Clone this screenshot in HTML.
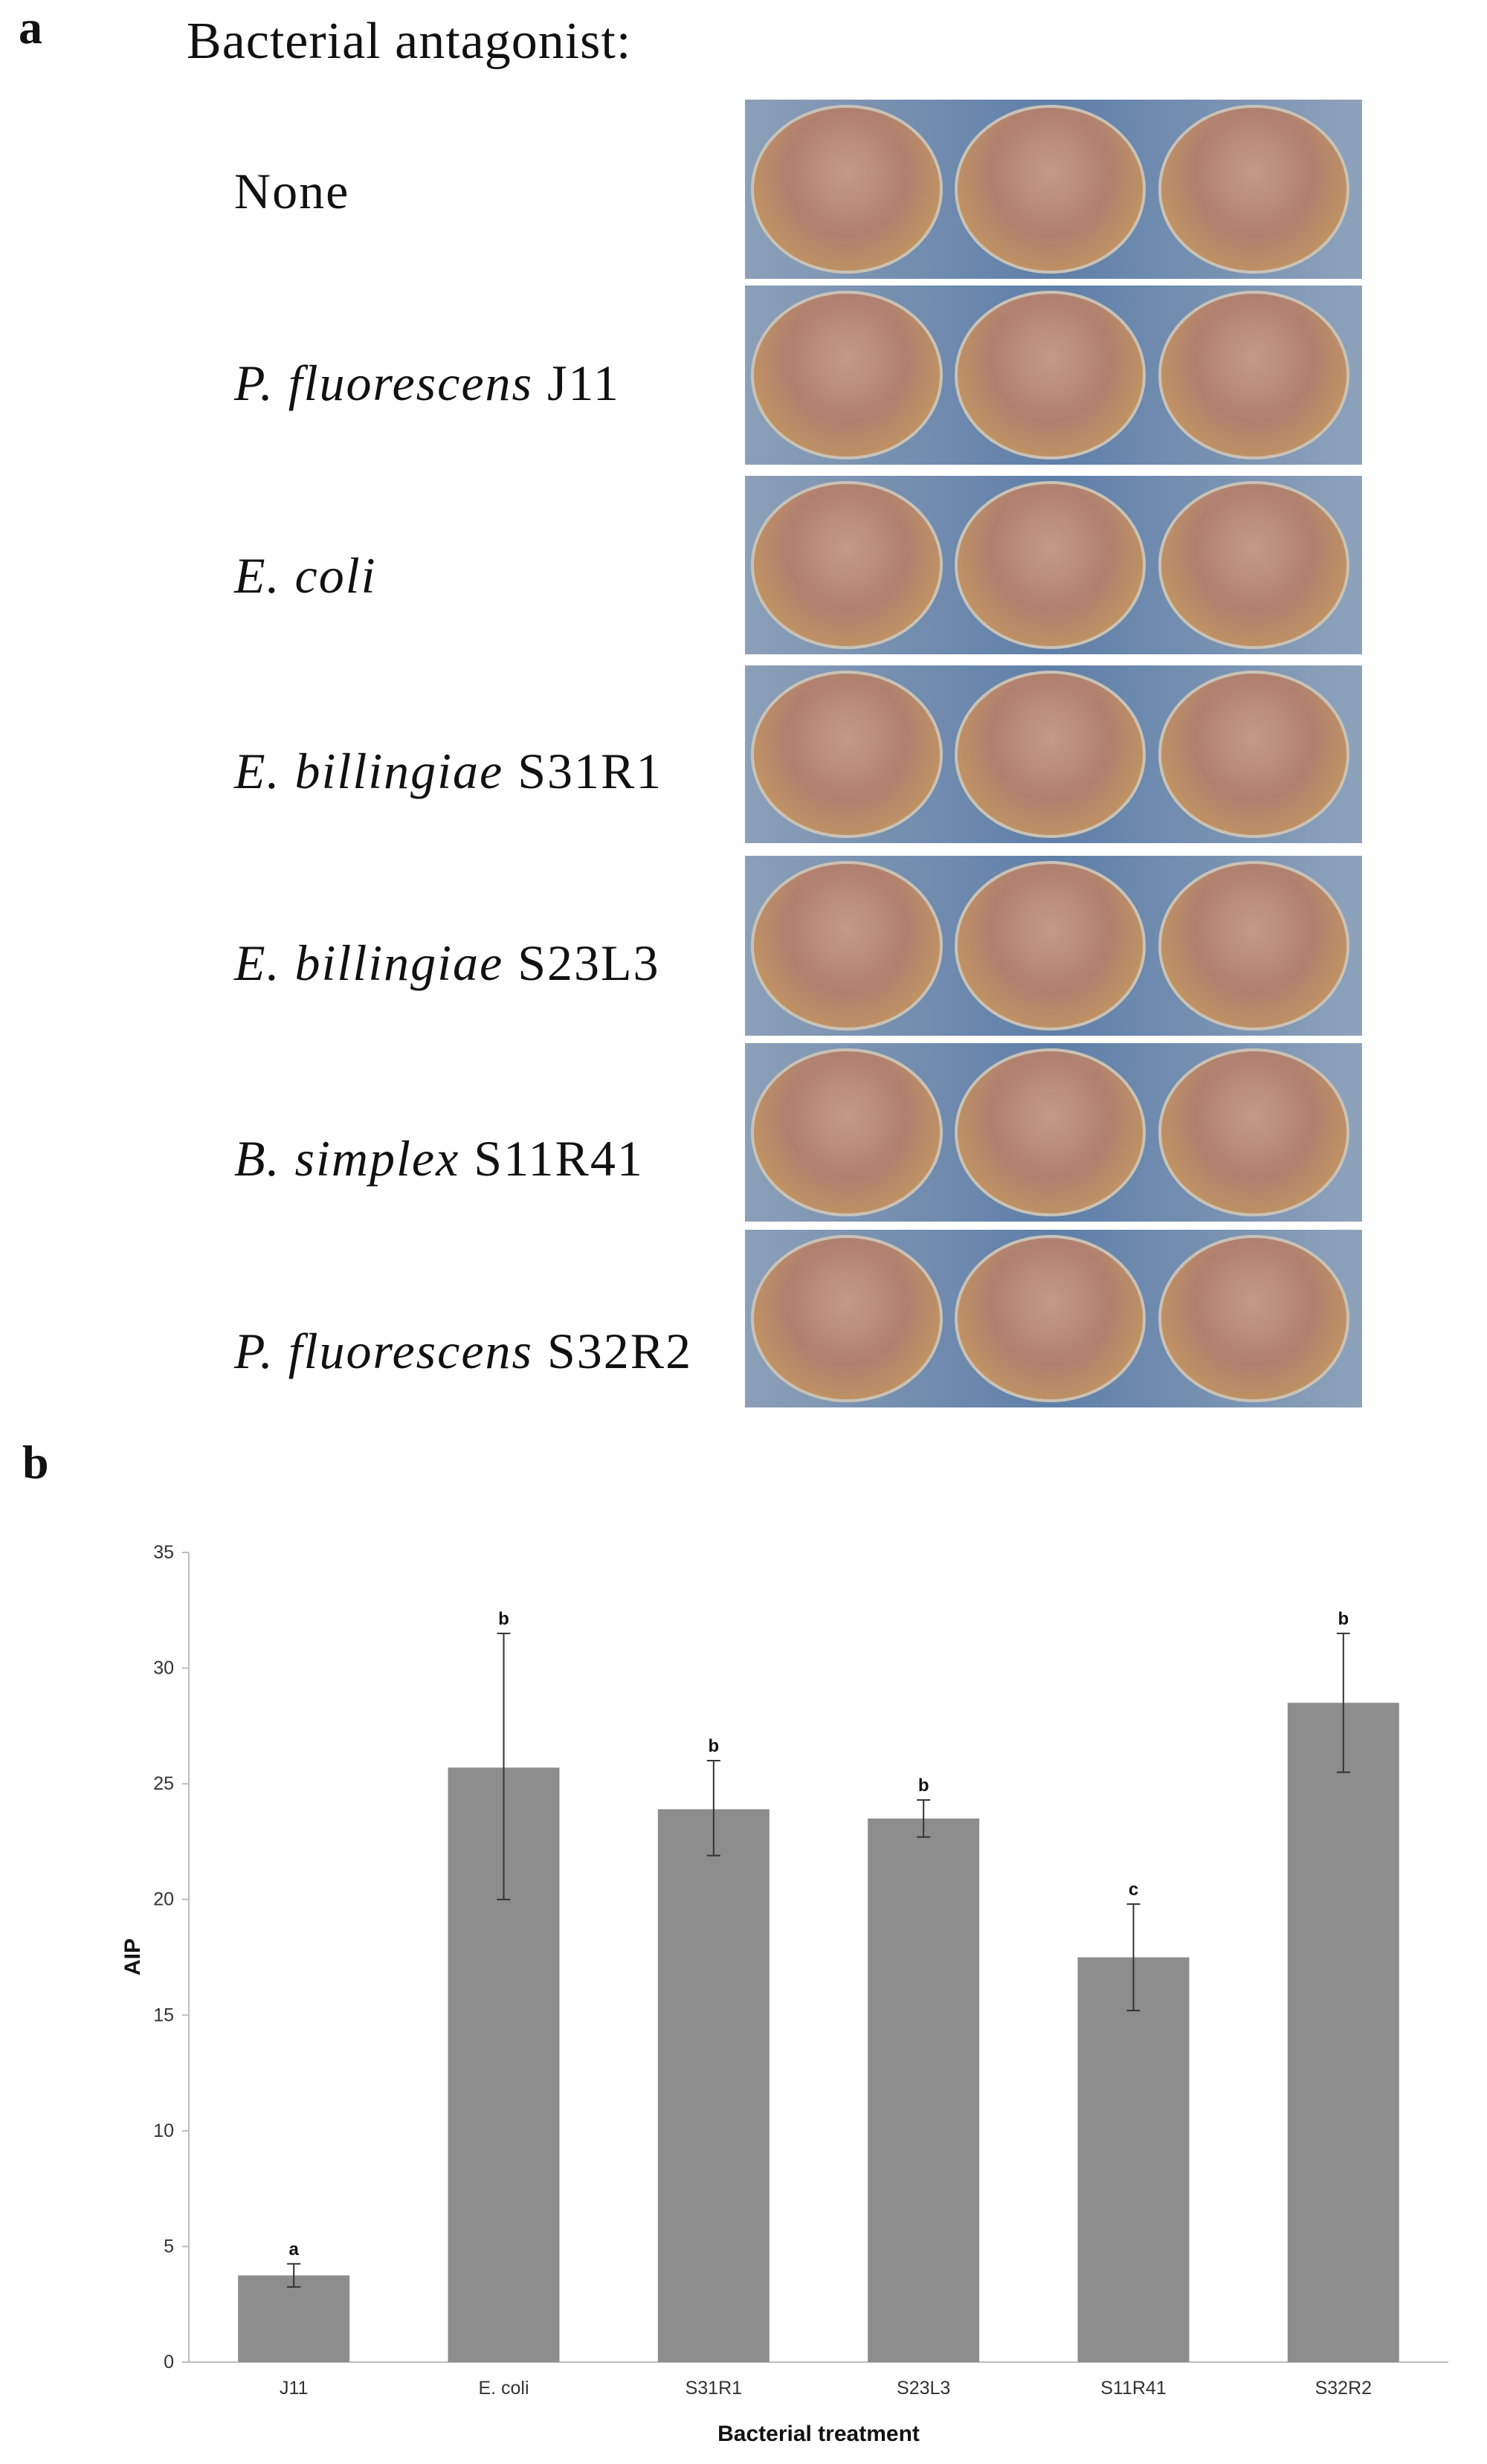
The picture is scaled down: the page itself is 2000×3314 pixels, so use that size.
<!DOCTYPE html>
<html><head><meta charset="utf-8"><style>
body{margin:0;background:#fff;width:2000px;height:3314px;overflow:hidden;position:relative;font-family:"Liberation Serif",serif}
.t{position:absolute;color:#111;white-space:nowrap}
.lab{position:absolute;left:315px;font-size:68px;letter-spacing:2px;line-height:1;transform:translateY(-50%);white-space:nowrap;color:#111}
.photo{position:absolute;left:1002px;width:830px;background:linear-gradient(90deg,#8c9fb8,#5f7fa8 50%,#8ea2bb);overflow:hidden}
.well{position:absolute;top:3%;height:94%;width:31%;border-radius:50%;border:4px solid #c9c2b6;box-sizing:border-box;
background:radial-gradient(ellipse at 50% 40%,#c49a8a 0%,#b08070 45%,#c39660 80%,#c8a468 100%)}
</style></head><body>
<div class="t" style="left:25px;top:0px;font-size:64px;font-weight:bold">a</div>
<div class="t" style="left:251px;top:16px;font-size:70px;letter-spacing:1px">Bacterial antagonist:</div>
<div class="lab" style="top:257px">None</div>
<div class="lab" style="top:515px"><i>P. fluorescens</i> J11</div>
<div class="lab" style="top:774px"><i>E. coli</i></div>
<div class="lab" style="top:1037px"><i>E. billingiae</i> S31R1</div>
<div class="lab" style="top:1295px"><i>E. billingiae</i> S23L3</div>
<div class="lab" style="top:1558px"><i>B. simplex</i> S11R41</div>
<div class="lab" style="top:1817px"><i>P. fluorescens</i> S32R2</div>
<div id="photos"></div>
<div class="t" style="left:30px;top:1930px;font-size:64px;font-weight:bold">b</div>
<svg id="chart" width="2000" height="3314" style="position:absolute;left:0;top:0" xmlns="http://www.w3.org/2000/svg"></svg>
<script>
const rows=[[134,375],[384,625],[640,880],[895,1134],[1151,1393],[1403,1643],[1654,1893]];
const pc=document.getElementById('photos');
rows.forEach((r,i)=>{const d=document.createElement('div');d.className='photo';


d.style.top=r[0]+'px';d.style.height=(r[1]-r[0])+'px';
[1,34,67].forEach(l=>{const w=document.createElement('div');w.className='well';w.style.left=l+'%';


d.appendChild(w);});pc.appendChild(d);});

const categories=["J11","E. coli","S31R1","S23L3","S11R41","S32R2"];
const values=[3.75,25.7,23.9,23.5,17.5,28.5];
const errLow=[3.25,20.0,21.9,22.7,15.2,25.5];
const errHigh=[4.25,31.5,26.0,24.3,19.8,31.5];
const letters=["a","b","b","b","c","b"];
const ticks=[0,5,10,15,20,25,30,35];

const svg=document.getElementById('chart');const NS='http://www.w3.org/2000/svg';
const x0=254,x1=1948,y0=3177,yTop=2088,vmax=35;
const y=v=>y0-(v/vmax)*(y0-yTop);
const step=(x1-x0)/categories.length;
const xc=i=>x0+step*(i+0.5);
const bw=150;
function el(t,a,name,txt){const e=document.createElementNS(NS,t);for(const k in a)e.setAttribute(k,a[k]);


if(txt!==undefined)e.textContent=txt;svg.appendChild(e);return e;}
el('line',{x1:x0,y1:yTop,x2:x0,y2:y0,stroke:'#bdbdbd','stroke-width':2},'y-axis');
el('line',{x1:x0,y1:y0,x2:x1,y2:y0,stroke:'#bdbdbd','stroke-width':2},'x-axis');
ticks.forEach(t=>{el('line',{x1:x0-9,y1:y(t),x2:x0,y2:y(t),stroke:'#bdbdbd','stroke-width':2},'y-tick');
el('text',{x:x0-20,y:y(t)+8,'text-anchor':'end','font-family':'Liberation Sans, sans-serif','font-size':25,fill:'#333'},'y-tick-label',String(t));});
categories.forEach((c,i)=>{
el('rect',{x:xc(i)-bw/2,y:y(values[i]),width:bw,height:y0-y(values[i]),fill:'#8d8d8d'},'bar-'+c.replace(/[^A-Za-z0-9]/g,'').toLowerCase());
el('line',{x1:xc(i),y1:y(errHigh[i]),x2:xc(i),y2:y(errLow[i]),stroke:'#333','stroke-width':2},'error-bar');
el('line',{x1:xc(i)-9,y1:y(errHigh[i]),x2:xc(i)+9,y2:y(errHigh[i]),stroke:'#333','stroke-width':2},'error-cap-high');
el('line',{x1:xc(i)-9,y1:y(errLow[i]),x2:xc(i)+9,y2:y(errLow[i]),stroke:'#333','stroke-width':2},'error-cap-low');
el('text',{x:xc(i),y:y(errHigh[i])-12,'text-anchor':'middle','font-family':'Liberation Sans, sans-serif','font-size':24,'font-weight':'bold',fill:'#111'},'significance-letter',letters[i]);
el('text',{x:xc(i),y:3220,'text-anchor':'middle','font-family':'Liberation Sans, sans-serif','font-size':25,fill:'#333'},'x-tick-label',c);
});
el('text',{x:(x0+x1)/2,y:3283,'text-anchor':'middle','font-family':'Liberation Sans, sans-serif','font-size':30,'font-weight':'bold',fill:'#111'},'x-axis-title','Bacterial treatment');
el('text',{x:0,y:0,transform:'translate(188,2632) rotate(-90)','text-anchor':'middle','font-family':'Liberation Sans, sans-serif','font-size':30,'font-weight':'bold',fill:'#111'},'y-axis-title','AIP');
</script>
</body></html>
